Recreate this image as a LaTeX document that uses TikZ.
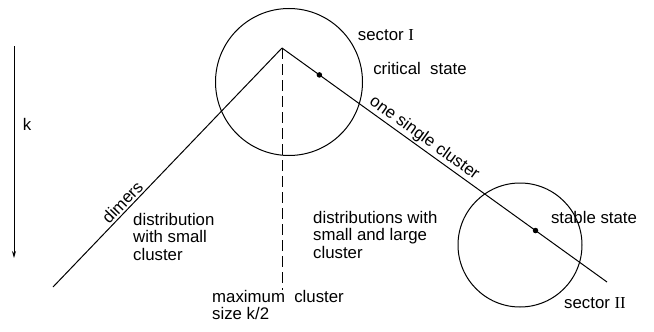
\documentclass[tikz,border=0pt]{standalone}
\usepackage{fontspec}
\setmainfont{Liberation Sans}
\newfontfamily\romnum{Liberation Serif}
\usetikzlibrary{arrows.meta,positioning,calc}

\begin{document}
\begin{tikzpicture}[x=1pt, y=-1pt,
  lbl/.style={font=\fontsize{16.8}{17.5}\selectfont, inner sep=0pt},
  txt/.style={lbl, align=left, anchor=north west},
  ring/.style={draw, circle, line width=1pt, inner sep=0pt},
  ln/.style={line width=1pt},
  state/.style={circle, fill, inner sep=0pt, minimum size=5.5pt},
  arr/.style={-{Stealth[length=7pt,width=4pt]}, line width=1pt}]
\useasboundingbox (0,0) rectangle (654,332);
% corner points of the curve
\coordinate (apex) at (282,48);
\coordinate (lend) at (53,287);
\coordinate (rend) at (607,282);
\coordinate (base) at (282,290);
\coordinate (ktop) at (14,46);
\coordinate (kbot) at (14,258);
% sectors
\node[ring, minimum size=147pt] (sec1) at (289,82) {};
\node[ring, minimum size=124pt] (sec2) at (520,245) {};
\node[state] (crit) at ($(apex)!0.115!(rend)$) {};
\node[state] (stab) at ($(apex)!0.78!(rend)$) {};
% lines
\draw[ln] (lend) -- node[lbl, pos=0.33, above=2pt, sloped] (dim) {dimers} (apex);
\draw[ln] (apex) -- node[lbl, pos=0.42, above=1.5pt, sloped] (one) {one single cluster} (rend);
\draw[ln, dash pattern=on 11pt off 5pt] (apex) -- (base);
\draw[arr] (ktop) -- (kbot);
% labels
\node[lbl] (k) at (27,124) {k};
\node[lbl] (s1) at (386,35) {sector {\romnum I}};
\node[lbl] (cs) at (420,68) {critical\ \ state};
\node[lbl] (ss) at (594,217) {stable state};
\node[lbl] (s2) at (595,303) {sector {\romnum II}};
\node[txt] (dsmall) at (133,213) {distribution\\with small\\cluster};
\node[txt] (dlarge) at (313,211) {distributions with\\small and large\\cluster};
\node[txt] (maxc) at (212,290) {maximum\ \ cluster\\size k/2};
\end{tikzpicture}
\end{document}
